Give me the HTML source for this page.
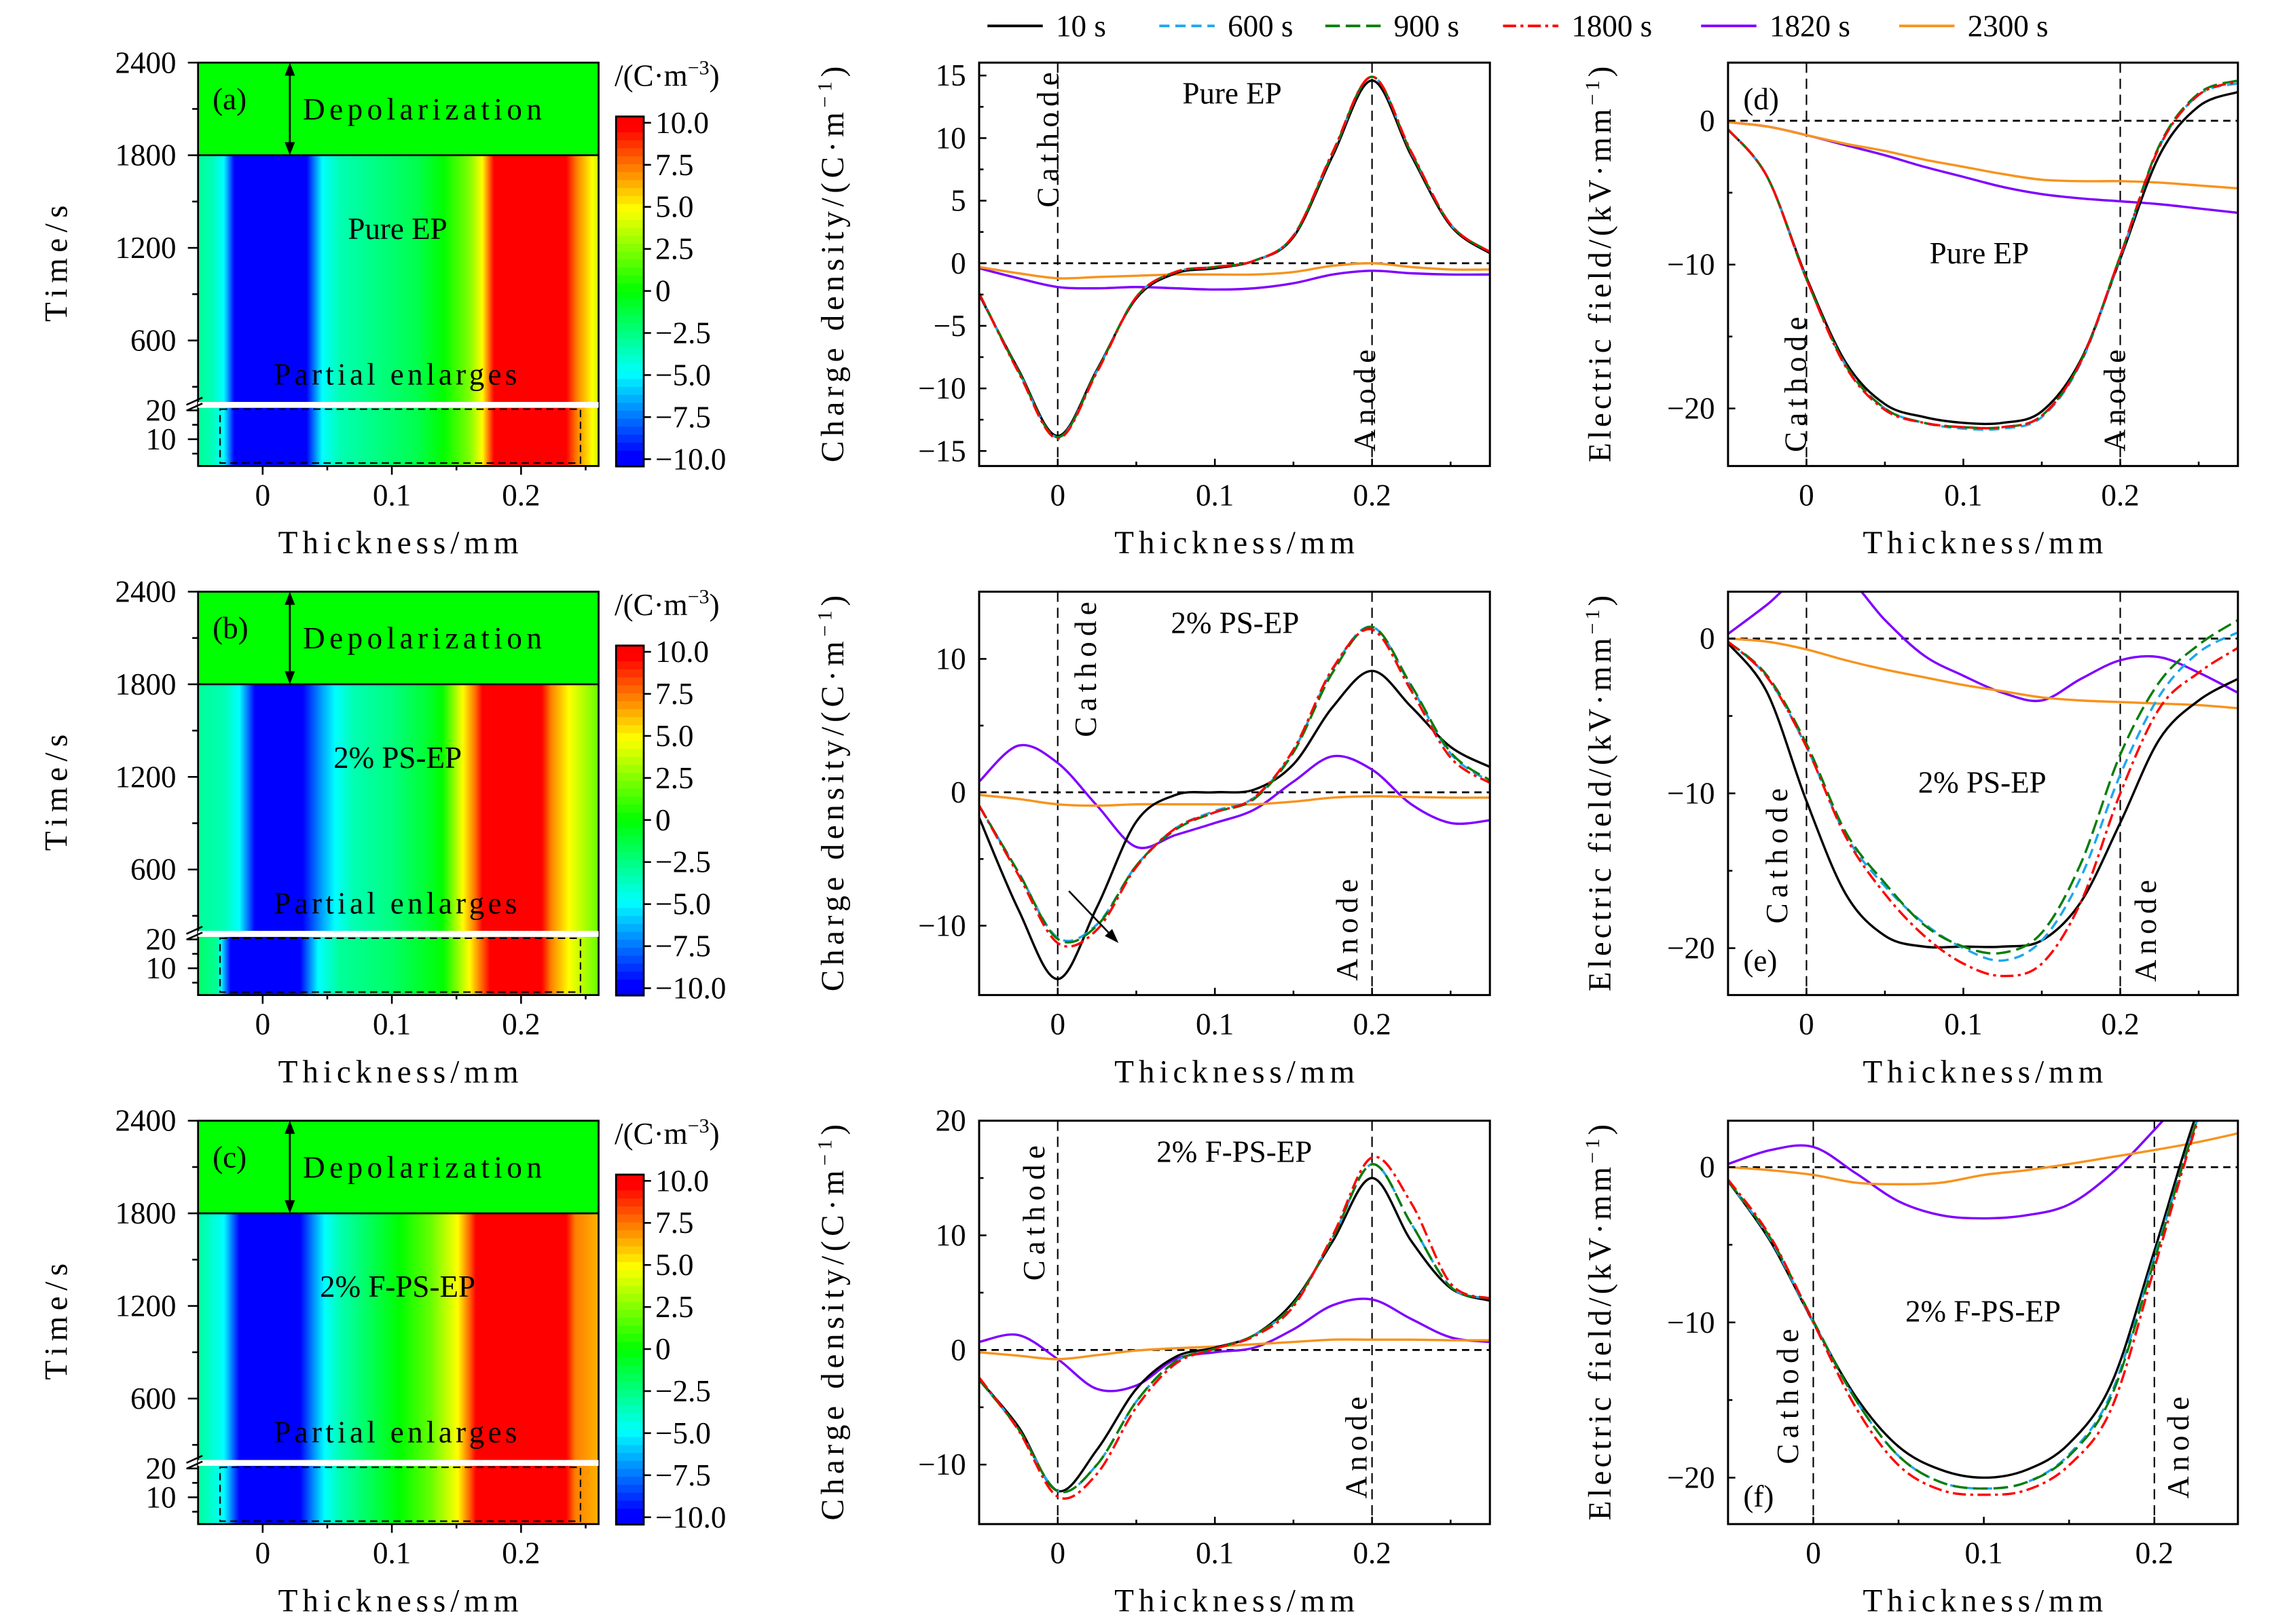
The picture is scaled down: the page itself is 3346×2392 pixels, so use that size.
<!DOCTYPE html>
<html><head><meta charset="utf-8"><title>Space charge and electric field</title>
<style>
html,body{margin:0;padding:0;background:#fff;}
svg{display:block;}
text{font-family:"Liberation Serif",serif;fill:#000;}
</style></head>
<body>
<svg id="fig" xmlns="http://www.w3.org/2000/svg" width="3346" height="2392" viewBox="0 0 1560 1115.2"></svg>
<script>
// ---------- DATA ----------
const SERIES = ['10 s','600 s','900 s','1800 s','1820 s','2300 s'];
const X1 = [-0.05,-0.025,0,0.025,0.05,0.075,0.1,0.125,0.15,0.175,0.2,0.225,0.25,0.275];
const X2 = [-0.05,-0.025,0,0.025,0.05,0.075,0.1,0.125,0.15,0.175,0.2,0.225,0.25];
// Pure EP charge density
const rhoA_10   = [-2.5,-8.5,-13.8,-8.5,-2.8,-0.8,-0.4,0.2,2.1,8.6,14.6,8.6,3.0,0.8];
const rhoA_600  = [-2.4,-8.6,-13.9,-8.6,-2.7,-0.7,-0.3,0.2,2.2,8.8,14.9,8.8,3.1,0.9];
const rhoA_900  = [-2.4,-8.6,-13.9,-8.6,-2.7,-0.7,-0.3,0.2,2.2,8.8,14.9,8.8,3.1,0.9];
const rhoA_1800 = [-2.4,-8.7,-14.0,-8.7,-2.7,-0.7,-0.3,0.2,2.2,8.9,14.9,8.9,3.1,0.9];
const rhoA_1820 = [-0.4,-1.2,-1.9,-2.0,-1.9,-2.0,-2.1,-2.0,-1.6,-0.9,-0.6,-0.8,-0.9,-0.9];
const rhoA_2300 = [-0.3,-0.8,-1.2,-1.1,-1.0,-0.9,-0.9,-0.9,-0.7,-0.2,0.0,-0.3,-0.5,-0.5];
// Pure EP electric field
const EA_10   = [-0.6,-3.9,-10.9,-16.8,-19.7,-20.6,-21.0,-21.0,-20.2,-16.6,-9.6,-2.4,1.0,2.0];
const EA_600  = [-0.6,-3.9,-11.0,-17.0,-20.0,-21.0,-21.4,-21.4,-20.6,-16.8,-9.5,-1.8,1.8,2.6];
const EA_900  = [-0.6,-3.9,-11.0,-17.0,-20.0,-21.0,-21.3,-21.3,-20.5,-16.7,-9.4,-1.7,1.9,2.8];
const EA_1800 = [-0.6,-3.9,-11.0,-17.1,-20.1,-21.0,-21.3,-21.3,-20.5,-16.7,-9.4,-1.8,1.8,2.7];
const EA_1820 = [-0.1,-0.4,-1.0,-1.7,-2.4,-3.2,-3.9,-4.6,-5.1,-5.4,-5.6,-5.8,-6.1,-6.4];
const EA_2300 = [-0.1,-0.4,-1.0,-1.6,-2.1,-2.7,-3.2,-3.7,-4.1,-4.2,-4.2,-4.3,-4.5,-4.7];
// 2% PS-EP charge density
const rhoB_10   = [-1.9,-8.8,-14.0,-8.6,-2.2,-0.2,0.0,0.2,2.1,6.4,9.1,6.4,3.4,1.9];
const rhoB_600  = [-1.0,-6.0,-10.9,-9.9,-5.5,-2.7,-1.4,-0.4,3.1,9.2,12.4,7.9,2.9,0.8];
const rhoB_900  = [-1.0,-6.0,-11.0,-10.0,-5.5,-2.8,-1.5,-0.5,3.0,9.0,12.4,8.0,3.0,0.9];
const rhoB_1800 = [-1.0,-6.2,-11.3,-10.3,-5.6,-2.7,-1.5,-0.4,3.2,9.3,12.2,7.6,2.6,0.7];
const rhoB_1820 = [0.8,3.5,2.2,-1.0,-4.1,-3.2,-2.3,-1.3,0.8,2.7,1.7,-0.9,-2.3,-2.1];
const rhoB_2300 = [-0.2,-0.5,-0.9,-1.0,-0.9,-0.9,-0.9,-0.9,-0.7,-0.4,-0.3,-0.35,-0.4,-0.4];
// 2% PS-EP electric field
const EB_10   = [-0.3,-3.5,-10.5,-16.5,-19.2,-19.9,-19.9,-19.9,-19.5,-17.0,-11.9,-6.5,-4.0,-2.6];
const EB_600  = [-0.2,-2.5,-7.0,-12.7,-16.0,-18.4,-20.0,-20.8,-19.5,-15.4,-8.8,-3.7,-0.9,0.4];
const EB_900  = [-0.2,-2.4,-6.8,-12.5,-15.8,-18.5,-19.9,-20.3,-19.0,-14.5,-7.5,-2.8,-0.4,1.2];
const EB_1800 = [-0.2,-2.5,-7.0,-12.8,-16.5,-19.2,-21.0,-21.8,-21.0,-17.0,-10.0,-4.5,-2.2,-0.6];
const EB_1820 = [0.3,2.2,4.3,4.0,1.2,-1.1,-2.4,-3.5,-4.0,-2.6,-1.4,-1.2,-2.2,-3.5];
const EB_2300 = [0.0,-0.2,-0.7,-1.4,-2.0,-2.5,-3.0,-3.4,-3.8,-4.0,-4.1,-4.2,-4.3,-4.5];
// 2% F-PS-EP charge density
const rhoC_10   = [-2.6,-6.7,-12.3,-8.7,-3.4,-0.6,0.2,1.3,4.2,9.5,15.0,9.5,5.4,4.3];
const rhoC_600  = [-2.6,-6.9,-12.3,-10.0,-4.5,-1.0,0.1,1.3,4.0,9.8,16.2,11.0,5.5,4.5];
const rhoC_900  = [-2.6,-6.9,-12.3,-10.0,-4.5,-1.0,0.1,1.3,4.0,9.8,16.2,11.0,5.5,4.5];
const rhoC_1800 = [-2.4,-7.0,-12.8,-10.8,-5.0,-1.2,0.1,1.2,3.8,10.0,16.8,12.8,5.8,4.5];
const rhoC_1820 = [0.7,1.3,-0.8,-3.4,-3.1,-0.8,-0.2,0.2,1.8,3.9,4.4,2.7,1.1,0.7];
const rhoC_2300 = [-0.2,-0.5,-0.8,-0.45,-0.05,0.15,0.3,0.5,0.7,0.9,0.9,0.9,0.85,0.85];
// 2% F-PS-EP electric field
const EC_10   = [-0.9,-4.8,-10.0,-14.8,-18.0,-19.5,-20.0,-19.5,-17.8,-13.9,-5.4,3.5,10];
const EC_600  = [-0.9,-4.7,-10.0,-15.0,-18.6,-20.3,-20.7,-20.3,-18.5,-14.5,-5.8,3.0,10];
const EC_900  = [-0.9,-4.6,-9.9,-15.0,-18.6,-20.3,-20.7,-20.3,-18.6,-14.7,-6.0,3.0,10];
const EC_1800 = [-0.8,-4.5,-10.0,-15.5,-19.2,-20.8,-21.1,-20.8,-19.2,-15.5,-6.5,2.8,10];
const EC_1820 = [0.2,1.1,1.3,-0.4,-2.2,-3.1,-3.3,-3.1,-2.4,-0.4,2.4,5.5,9];
const EC_2300 = [0.0,-0.2,-0.5,-1.0,-1.1,-1.0,-0.5,-0.2,0.2,0.65,1.1,1.6,2.2];
// heatmap profiles (thickness mm, charge C/m3)
const heatA_x = [-0.05,-0.04,-0.03,-0.022,-0.01,0.02,0.034,0.046,0.06,0.09,0.12,0.14,0.16,0.17,0.179,0.235,0.243,0.255,0.26];
const heatA_v = [-3,-3.5,-5,-10,-12,-12,-10,-5,-3.5,-2.5,-1.5,0,2.5,5,10,10,7.5,5,4];
const heatB_x = [-0.05,-0.03,-0.018,-0.006,0.031,0.045,0.056,0.07,0.1,0.127,0.139,0.155,0.165,0.17,0.216,0.223,0.237,0.256,0.26];
const heatB_v = [-3,-3.5,-5,-10,-10,-7,-5,-3.5,-2.5,-1,0,5,8,10,10,7.5,5,2.5,2];
const heatB2_x = [-0.05,-0.035,-0.025,0.029,0.043,0.06,0.1,0.14,0.16,0.176,0.216,0.223,0.237,0.256,0.26];
const heatB2_v = [-2,-3,-10,-10,-5,-3,-2,0,5,10,10,7.5,5,2.5,2];
const heatC_x = [-0.05,-0.04,-0.03,-0.018,0.029,0.04,0.048,0.06,0.106,0.13,0.151,0.16,0.165,0.235,0.242,0.26];
const heatC_v = [-3,-4,-5,-10,-10,-7,-5,-3.5,0,2,5,8,10,10,7.5,6.5];
const TIME_TICKS = [2400,1800,1200,600];
const TIME_TICKS_LOW = [20,10];
const CBAR_TICKS = [10,7.5,5,2.5,0,-2.5,-5,-7.5,-10];
const CBAR_LABELS = ['10.0','7.5','5.0','2.5','0','\u22122.5','\u22125.0','\u22127.5','\u221210.0'];

// ---------- helpers ----------
const NS='http://www.w3.org/2000/svg';
const svg=document.getElementById('fig');
function mk(tag,attrs,parent){const e=document.createElementNS(NS,tag);for(const k in attrs)e.setAttribute(k,attrs[k]);(parent||svg).appendChild(e);return e;}
function fmt(v){return (v<0?'\u2212':'')+String(Math.abs(v));}
function jet(v){let t=(v+10)/20;t=Math.max(0,Math.min(1,t));let r,g,b;
 if(t<0.25){r=0;g=4*t;b=1;}else if(t<0.5){r=0;g=1;b=1-(t-0.25)*4;}else if(t<0.75){r=(t-0.5)*4;g=1;b=0;}else{r=1;g=1-(t-0.75)*4;b=0;}
 return 'rgb('+Math.round(r*255)+','+Math.round(g*255)+','+Math.round(b*255)+')';}
function interp(xs,vs,x){if(x<=xs[0])return vs[0];for(let i=1;i<xs.length;i++){if(x<=xs[i]){const f=(x-xs[i-1])/(xs[i]-xs[i-1]);return vs[i-1]+f*(vs[i]-vs[i-1]);}}return vs[vs.length-1];}
function smooth(p){let d='M'+p[0][0].toFixed(2)+','+p[0][1].toFixed(2);
 for(let i=0;i<p.length-1;i++){const a=p[Math.max(0,i-1)],b=p[i],c=p[i+1],e=p[Math.min(p.length-1,i+2)];
  const c1=[b[0]+(c[0]-a[0])/6,b[1]+(c[1]-a[1])/6],c2=[c[0]-(e[0]-b[0])/6,c[1]-(e[1]-b[1])/6];
  d+='C'+c1[0].toFixed(2)+','+c1[1].toFixed(2)+' '+c2[0].toFixed(2)+','+c2[1].toFixed(2)+' '+c[0].toFixed(2)+','+c[1].toFixed(2);}
 return d;}
const STY=[{c:'#000000',d:''},{c:'#1ea7ec',d:'7 4'},{c:'#0a7d0a',d:'10 4'},{c:'#ff0000',d:'9 3 2 3'},{c:'#7f00ff',d:''},{c:'#f7931e',d:''}];
const DRAW_ORDER=[4,5,0,1,2,3];

// ---------- legend ----------
const leg=mk('g',{});


const LEG_X=[678,796,910,1032,1168,1304];
SERIES.forEach((s,i)=>{
 const g=mk('g',{},leg);
 
 
 mk('line',{x1:LEG_X[i],y1:17.8,x2:LEG_X[i]+38,y2:17.8,stroke:STY[i].c,'stroke-width':1.8,'stroke-dasharray':STY[i].d},g);
 const t=mk('text',{x:LEG_X[i]+47,y:25,'font-size':21},g);t.textContent=s;
});

// ---------- heatmap panels ----------
const ROW_Y=[43,406.3,769.6];
const HEAT=[{lab:'(a)',name:'Pure EP',main:[heatA_x,heatA_v],low:[heatA_x,heatA_v],nx:227},
            {lab:'(b)',name:'2% PS-EP',main:[heatB_x,heatB_v],low:[heatB2_x,heatB2_v],nx:218},
            {lab:'(c)',name:'2% F-PS-EP',main:[heatC_x,heatC_v],low:[heatC_x,heatC_v],nx:205}];
const HX0=136,HX1=411,HXD=[-0.05,0.26];
function hx(v){return HX0+(v-HXD[0])/(HXD[1]-HXD[0])*(HX1-HX0);}
HEAT.forEach((H,r)=>{
 const y0=ROW_Y[r];
 const g=mk('g',{});
 
 
 const yDep=y0+63.6, yBrk=y0+233, yLowTop=y0+237, yBot=y0+277;
 function tmain(t){return yDep+(1800-t)/600*63.6;}
 function tlow(t){return y0+238.8+(20-t)*1.98;}
 // depolarization region
 const dep=mk('rect',{x:HX0,y:y0,width:HX1-HX0,height:yDep-y0,fill:jet(0)},g);
 
 
 const N=275;
 const mg=mk('g',{},g);
 
 
 const lg=mk('g',{},g);
 
 
 for(let i=0;i<N;i++){
  const xv=HXD[0]+(i+0.5)/N*(HXD[1]-HXD[0]);
  const xp=HX0+i*(HX1-HX0)/N;
  mk('rect',{x:xp.toFixed(2),y:yDep,width:((HX1-HX0)/N+0.4).toFixed(2),height:yBrk-yDep,fill:jet(interp(H.main[0],H.main[1],xv))},mg);
  mk('rect',{x:xp.toFixed(2),y:yLowTop,width:((HX1-HX0)/N+0.4).toFixed(2),height:yBot-yLowTop,fill:jet(interp(H.low[0],H.low[1],xv))},lg);
 }
 mk('rect',{x:HX0,y:yBrk,width:HX1-HX0,height:yLowTop-yBrk,fill:'#fff'},g);
 mk('line',{x1:HX0,y1:yDep,x2:HX1,y2:yDep,stroke:'#000','stroke-width':1.3},g);
 mk('rect',{x:HX0,y:y0,width:HX1-HX0,height:yBot-y0,fill:'none',stroke:'#000','stroke-width':1.3},g);
 mk('rect',{x:HX0,y:yBrk,width:HX1-HX0,height:yLowTop-yBrk,fill:'#fff'},g);
 mk('line',{x1:HX1,y1:y0,x2:HX1,y2:yBrk,stroke:'#000','stroke-width':1},g);
 // dashed rectangle
 const dr=mk('rect',{x:hx(-0.033),y:yLowTop+1,width:hx(0.246)-hx(-0.033),height:yBot-yLowTop-3,fill:'none',stroke:'#000','stroke-width':1,'stroke-dasharray':'5 3'},g);
 
 
 // break marks
 mk('line',{x1:HX0-8,y1:yBrk+2,x2:HX0+3,y2:yBrk-3,stroke:'#000','stroke-width':1.2},g);
 mk('line',{x1:HX0-8,y1:yBrk+6,x2:HX0+3,y2:yBrk+1,stroke:'#000','stroke-width':1.2},g);
 // y ticks
 TIME_TICKS.forEach(t=>{const yy=tmain(t);
  mk('line',{x1:HX0-7,y1:yy,x2:HX0,y2:yy,stroke:'#000','stroke-width':1.2},g);
  const tx=mk('text',{x:HX0-15,y:yy+7,'font-size':21,'text-anchor':'end'},g);tx.textContent=t;});
 [2100,1500,900,300].forEach(t=>{const yy=tmain(t);if(yy<yBrk)mk('line',{x1:HX0-4,y1:yy,x2:HX0,y2:yy,stroke:'#000','stroke-width':1.2},g);});
 TIME_TICKS_LOW.forEach(t=>{const yy=tlow(t);
  mk('line',{x1:HX0-7,y1:yy,x2:HX0,y2:yy,stroke:'#000','stroke-width':1.2},g);
  const tx=mk('text',{x:HX0-15,y:yy+7,'font-size':21,'text-anchor':'end'},g);tx.textContent=t;});
 [15,5].forEach(t=>{const yy=tlow(t);mk('line',{x1:HX0-4,y1:yy,x2:HX0,y2:yy,stroke:'#000','stroke-width':1.2},g);});
 // x ticks
 [0,0.1,0.2].forEach(v=>{mk('line',{x1:hx(v),y1:yBot,x2:hx(v),y2:yBot+6,stroke:'#000','stroke-width':1.2},g);
  const tx=mk('text',{x:hx(v),y:y0+304,'font-size':21,'text-anchor':'middle'},g);tx.textContent=String(v);});
 [0.05,0.15,0.25].forEach(v=>{mk('line',{x1:hx(v),y1:yBot,x2:hx(v),y2:yBot+3,stroke:'#000','stroke-width':1.2},g);});
 const xt=mk('text',{x:273.5,y:y0+337,'font-size':22,'text-anchor':'middle',textLength:165,lengthAdjust:'spacing'},g);xt.textContent='Thickness/mm';
 
 
 const yt=mk('text',{x:0,y:0,'font-size':22,'text-anchor':'middle',transform:'translate(46,'+(y0+138)+') rotate(-90)',textLength:80,lengthAdjust:'spacing'},g);yt.textContent='Time/s';
 
 
 // annotations
 const pl=mk('text',{x:146,y:y0+32,'font-size':21},g);pl.textContent=H.lab;
 
 
 mk('line',{x1:199,y1:y0+6,x2:199,y2:yDep-6,stroke:'#000','stroke-width':1.3},g);
 mk('path',{d:'M199,'+y0+' l-3.5,9 h7z M199,'+yDep+' l-3.5,-9 h7z',fill:'#000'},g);
 const dp=mk('text',{x:208,y:y0+39,'font-size':21,textLength:164,lengthAdjust:'spacing'},g);dp.textContent='Depolarization';
 const nm=mk('text',{x:273,y:y0+121,'font-size':21,'text-anchor':'middle'},g);nm.textContent=H.name;
 
 
 const pe=mk('text',{x:188,y:y0+221,'font-size':21,textLength:167,lengthAdjust:'spacing'},g);pe.textContent='Partial enlarges';
 // colorbar
 const cb=mk('g',{},g);
 
 
 const cy0=y0+37,cy1=y0+277.3,cx0=423,cx1=442;
 const cv=v=>y0+41.3+(10-v)/20*231;
 const NB=44;
 for(let i=0;i<NB;i++){const vtop=10.7-i*(21.4/NB);const yy=cy0+i*(cy1-cy0)/NB;
  mk('rect',{x:cx0,y:yy.toFixed(2),width:cx1-cx0,height:((cy1-cy0)/NB+0.4).toFixed(2),fill:jet(vtop-21.4/NB/2)},cb);}
 mk('rect',{x:cx0,y:cy0,width:cx1-cx0,height:cy1-cy0,fill:'none',stroke:'#000','stroke-width':1.3},cb);
 CBAR_TICKS.forEach((v,i)=>{const yy=cv(v);mk('line',{x1:cx1,y1:yy,x2:cx1+5,y2:yy,stroke:'#000','stroke-width':1.2},cb);
  const tx=mk('text',{x:cx1+8,y:yy+7,'font-size':21},cb);tx.textContent=CBAR_LABELS[i];});
 const un=mk('text',{x:422,y:y0+16,'font-size':21},cb);
 un.innerHTML='/(C·m<tspan font-size="14" dy="-8">\u22123</tspan><tspan dy="8">)</tspan>';
});

// ---------- line panels ----------
const PANELS=[
 {id:'b-top',x0:672.3,x1:1023,row:0,xd:[-0.05,0.275],yd:[-16.2,16.03],yMaj:[-15,-10,-5,0,5,10,15],yMin:[-12.5,-7.5,-2.5,2.5,7.5,12.5],X:X1,
  data:[rhoA_10,rhoA_600,rhoA_900,rhoA_1800,rhoA_1820,rhoA_2300],type:'rho',title:'Pure EP',tp:[846,71],cath:[719.6,96],an:[937,275]},
 {id:'d',x0:1186.5,x1:1536.6,row:0,xd:[-0.05,0.275],yd:[-24,4.04],yMaj:[-20,-10,0],yMin:[-15,-5],X:X1,
  data:[EA_10,EA_600,EA_900,EA_1800,EA_1820,EA_2300],type:'E',title:'Pure EP',tp:[1359,181],cath:[1233,264],an:[1452,275],lab:'(d)',lp:[1197,75]},
 {id:'b-mid',x0:672.3,x1:1023,row:1,xd:[-0.05,0.275],yd:[-15.2,15.04],yMaj:[-10,0,10],yMin:[-5,5],X:X1,
  data:[rhoB_10,rhoB_600,rhoB_900,rhoB_1800,rhoB_1820,rhoB_2300],type:'rho',title:'2% PS-EP',tp:[848,434.7],cath:[745.5,459.7],an:[924.9,638.6],arrow:[[0.0071,-7.4],[0.0387,-11.3]]},
 {id:'e',x0:1186.5,x1:1536.6,row:1,xd:[-0.05,0.275],yd:[-23.03,3.03],yMaj:[-20,-10,0],yMin:[-15,-5],X:X1,
  data:[EB_10,EB_600,EB_900,EB_1800,EB_1820,EB_2300],type:'E',title:'2% PS-EP',tp:[1361,544.3],cath:[1220,587.8],an:[1473.2,639.2],lab:'(e)',lp:[1197,666.7]},
 {id:'c-mid',x0:672.3,x1:1023,row:2,xd:[-0.05,0.275],yd:[-15.19,20],yMaj:[-10,0,10,20],yMin:[-5,5,15],X:X1,
  data:[rhoC_10,rhoC_600,rhoC_900,rhoC_1800,rhoC_1820,rhoC_2300],type:'rho',title:'2% F-PS-EP',tp:[847.5,797.9],cath:[710.1,833],an:[931.3,994]},
 {id:'f',x0:1186.5,x1:1536.6,row:2,xd:[-0.05,0.249],yd:[-22.99,2.99],yMaj:[-20,-10,0],yMin:[-15,-5],X:X2,
  data:[EC_10,EC_600,EC_900,EC_1800,EC_1820,EC_2300],type:'E',title:'2% F-PS-EP',tp:[1361.6,907.6],cath:[1227.6,959],an:[1495.6,994],lab:'(f)',lp:[1197,1034.5]}
];
PANELS.forEach((P,pi)=>{
 const y0=ROW_Y[P.row],y1=y0+277;
 const sx=v=>P.x0+(v-P.xd[0])/(P.xd[1]-P.xd[0])*(P.x1-P.x0);
 const sy=v=>y1-(v-P.yd[0])/(P.yd[1]-P.yd[0])*(y1-y0);
 const g=mk('g',{});
 
 
 const cid='clip'+pi;
 const cp=mk('clipPath',{id:cid},g);mk('rect',{x:P.x0,y:y0,width:P.x1-P.x0,height:y1-y0},cp);
 // reference lines
 mk('line',{x1:P.x0,y1:sy(0),x2:P.x1,y2:sy(0),stroke:'#000','stroke-width':1.3,'stroke-dasharray':'5 3.5'},g);
 [0,0.2].forEach(v=>{const l=mk('line',{x1:sx(v),y1:y0,x2:sx(v),y2:y1,stroke:'#000','stroke-width':1,'stroke-dasharray':'7 4'},g);
  
  });
 // series
 const sg=mk('g',{'clip-path':'url(#'+cid+')'},g);
 DRAW_ORDER.forEach(i=>{
  const pts=P.X.map((xv,k)=>[sx(xv),sy(P.data[i][k])]);
  const p=mk('path',{d:smooth(pts),fill:'none',stroke:STY[i].c,'stroke-width':1.6,'stroke-dasharray':STY[i].d,'stroke-linejoin':'round'},sg);
  
  
 });
 // frame
 mk('rect',{x:P.x0,y:y0,width:P.x1-P.x0,height:y1-y0,fill:'none',stroke:'#000','stroke-width':1.4},g);
 // ticks
 P.yMaj.forEach(v=>{const yy=sy(v);mk('line',{x1:P.x0,y1:yy,x2:P.x0+5,y2:yy,stroke:'#000','stroke-width':1.2},g);
  const t=mk('text',{x:P.x0-9,y:yy+7,'font-size':21,'text-anchor':'end'},g);t.textContent=fmt(v);});
 P.yMin.forEach(v=>{const yy=sy(v);mk('line',{x1:P.x0,y1:yy,x2:P.x0+3,y2:yy,stroke:'#000','stroke-width':1.2},g);});
 [0,0.1,0.2].forEach(v=>{mk('line',{x1:sx(v),y1:y1,x2:sx(v),y2:y1-5,stroke:'#000','stroke-width':1.2},g);
  const t=mk('text',{x:sx(v),y:y1+27,'font-size':21,'text-anchor':'middle'},g);t.textContent=String(v);});
 [0.05,0.15,0.25].forEach(v=>{if(v<=P.xd[1])mk('line',{x1:sx(v),y1:y1,x2:sx(v),y2:y1-3,stroke:'#000','stroke-width':1.2},g);});
 const xt=mk('text',{x:(P.x0+P.x1)/2,y:y1+60,'font-size':22,'text-anchor':'middle',textLength:165,lengthAdjust:'spacing'},g);xt.textContent='Thickness/mm';
 
 
 const ytx=P.type==='rho'?571:1098;
 const yt=mk('text',{x:0,y:0,'font-size':22,'text-anchor':'middle',transform:'translate('+(ytx+8)+','+(y0+138.5)+') rotate(-90)',textLength:272,lengthAdjust:'spacing'},g);
 if(P.type==='rho')yt.innerHTML='Charge density/(C·m<tspan font-size="14" dy="-8">\u22121</tspan><tspan dy="8">)</tspan>';
 else yt.innerHTML='Electric field/(kV·mm<tspan font-size="14" dy="-8">\u22121</tspan><tspan dy="8">)</tspan>';
 
 
 // labels
 const tt=mk('text',{x:P.tp[0],y:P.tp[1],'font-size':21,'text-anchor':'middle'},g);tt.textContent=P.title;
 
 
 const ca=mk('text',{x:0,y:0,'font-size':21,'text-anchor':'middle',transform:'translate('+(P.cath[0]+7)+','+P.cath[1]+') rotate(-90)',textLength:93,lengthAdjust:'spacing'},g);ca.textContent='Cathode';
 
 
 const an=mk('text',{x:0,y:0,'font-size':21,'text-anchor':'middle',transform:'translate('+(P.an[0]+7)+','+P.an[1]+') rotate(-90)',textLength:70,lengthAdjust:'spacing'},g);an.textContent='Anode';
 
 
 if(P.lab){const l=mk('text',{x:P.lp[0],y:P.lp[1],'font-size':21},g);l.textContent=P.lab;
  
  }
 if(P.arrow){const a=P.arrow;const X1p=sx(a[0][0]),Y1p=sy(a[0][1]),X2p=sx(a[1][0]),Y2p=sy(a[1][1]);
  const ang=Math.atan2(Y2p-Y1p,X2p-X1p);
  mk('line',{x1:X1p,y1:Y1p,x2:X2p-6*Math.cos(ang),y2:Y2p-6*Math.sin(ang),stroke:'#000','stroke-width':1.2},g);
  const hx1=X2p-10*Math.cos(ang)+3.5*Math.sin(ang),hy1=Y2p-10*Math.sin(ang)-3.5*Math.cos(ang);
  const hx2=X2p-10*Math.cos(ang)-3.5*Math.sin(ang),hy2=Y2p-10*Math.sin(ang)+3.5*Math.cos(ang);
  const ah=mk('path',{d:'M'+X2p+','+Y2p+'L'+hx1+','+hy1+'L'+hx2+','+hy2+'Z',fill:'#000'},g);
  
  }
});
</script>
</body></html>
